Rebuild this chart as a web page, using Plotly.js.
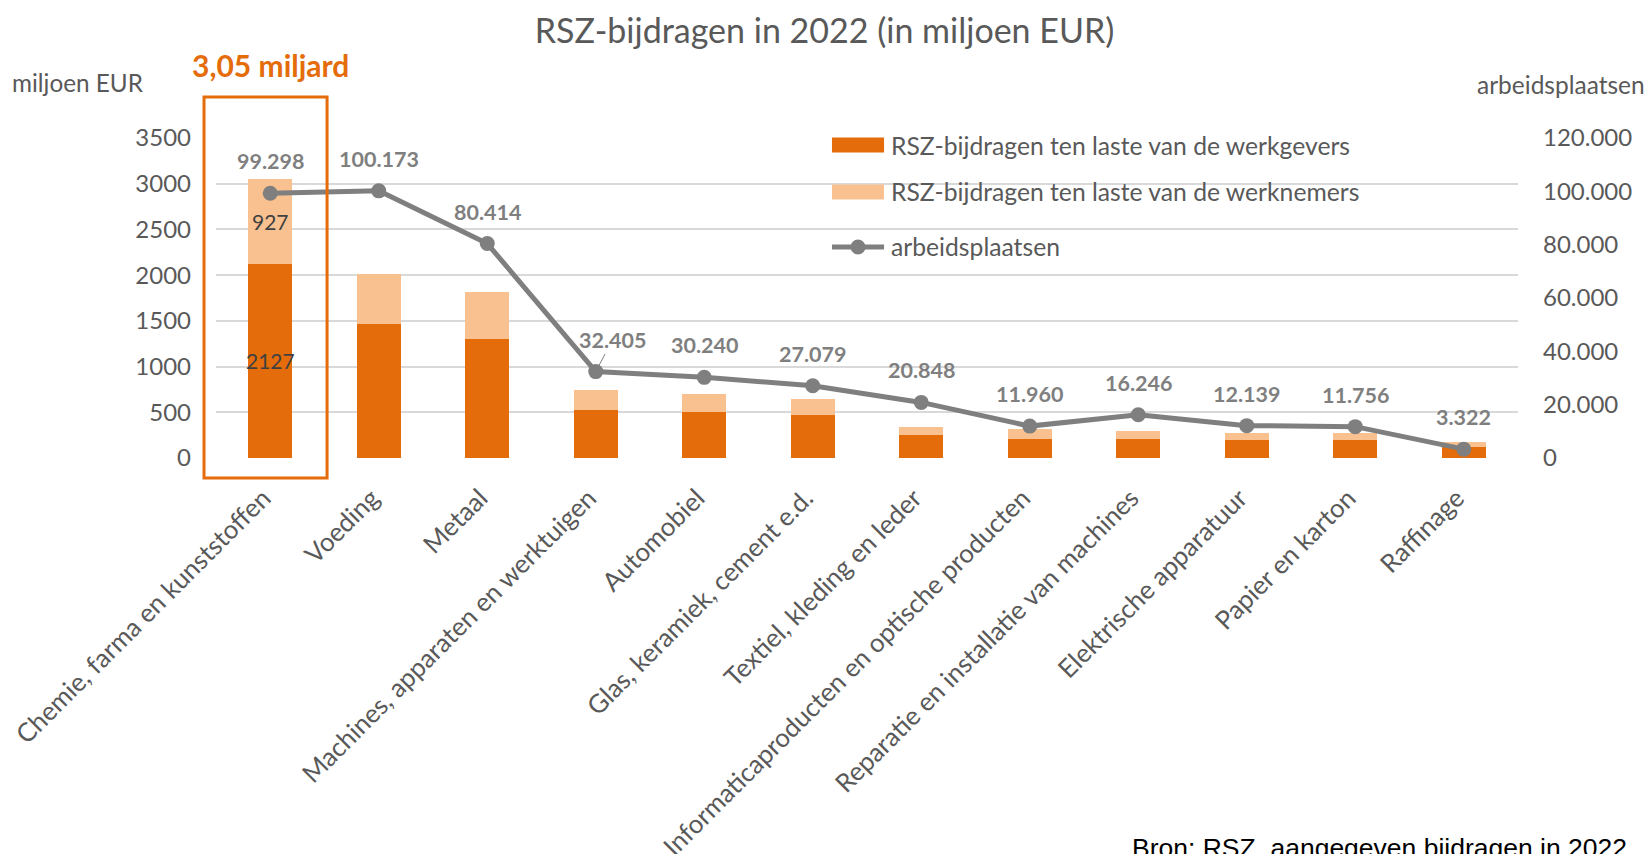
<!DOCTYPE html>
<html>
<head>
<meta charset="utf-8">
<script src="https://cdn.plot.ly/plotly-3.0.1.min.js"></script>
<style>html,body{margin:0;padding:0;background:#fff;overflow:hidden}#chart{width:1649px;height:854px}</style>
</head>
<body>
<div id="chart"></div>
<script>
const categories = ["Chemie, farma en kunststoffen","Voeding","Metaal","Machines, apparaten en werktuigen","Automobiel","Glas, keramiek, cement e.d.","Textiel, kleding en leder","Informaticaproducten en optische producten","Reparatie en installatie van machines","Elektrische apparatuur","Papier en karton","Raffinage"];
const werkgevers = [2127, 1466, 1302, 527, 505, 469, 247, 211, 207, 192, 192, 123];
const werknemers = [927, 546, 517, 219, 197, 178, 95, 109, 88, 81, 81, 52];
const arbeidsplaatsen = [99298, 100173, 80414, 32405, 30240, 27079, 20848, 11960, 16246, 12139, 11756, 3322];
const seriesNames = ["RSZ-bijdragen ten laste van de werkgevers","RSZ-bijdragen ten laste van de werknemers","arbeidsplaatsen"];
const highlightLabel = "3,05 miljard";

const DARK = "#E46C0A", LIGHT = "#F9C190", GREY = "#7F7F7F", TXT = "#595959";
const FONT = "Lato, 'Open Sans', sans-serif";

function fmt(v){ return String(v).replace(/\B(?=(\d{3})+(?!\d))/g, "."); }

const traces = [
  {type:"bar", name:seriesNames[0], x:categories, y:werkgevers, marker:{color:DARK}, hoverinfo:"skip", showlegend:false},
  {type:"bar", name:seriesNames[1], x:categories, y:werknemers, marker:{color:LIGHT}, hoverinfo:"skip", showlegend:false},
  {type:"scatter", mode:"lines+markers", name:seriesNames[2], x:categories, y:arbeidsplaatsen, yaxis:"y2",
   line:{color:GREY, width:5}, marker:{color:GREY, size:15}, cliponaxis:false, hoverinfo:"skip", showlegend:false}
];

const annotations = [];
arbeidsplaatsen.forEach((v,i)=>{
  const a = {x:categories[i], y:v, xref:"x", yref:"y2", text:fmt(v), showarrow:false, yshift:32,
    font:{family:FONT, size:21.5, color:GREY, weight:700}};
  if (i === 3) { Object.assign(a, {showarrow:true, ax:17, ay:-32, arrowhead:0, arrowwidth:1, arrowcolor:GREY, yshift:0, standoff:4}); }
  annotations.push(a);
});
// in-bar labels for first category
annotations.push({x:categories[0], y:werkgevers[0]/2, xref:"x", yref:"y", text:String(werkgevers[0]), showarrow:false,
  font:{family:FONT, size:21, color:"#404040"}});
annotations.push({x:categories[0], y:werkgevers[0]+werknemers[0]/2, xref:"x", yref:"y", text:String(werknemers[0]), showarrow:false,
  font:{family:FONT, size:21, color:"#404040"}});
// axis titles
annotations.push({xref:"paper", yref:"paper", x:-0.1582, y:1.172, xanchor:"left", yanchor:"middle", text:"miljoen EUR", showarrow:false,
  font:{family:FONT, size:24.3, color:TXT}});
annotations.push({xref:"paper", yref:"paper", x:1.0991, y:1.166, xanchor:"right", yanchor:"middle", text:"arbeidsplaatsen", showarrow:false,
  font:{family:FONT, size:24.5, color:TXT}});
// highlight label
annotations.push({xref:"x", yref:"paper", x:categories[0], y:1.228, xanchor:"center", yanchor:"middle", text:highlightLabel, showarrow:false,
  font:{family:FONT, size:30, color:DARK, weight:700}});
// source
annotations.push({xref:"paper", yref:"paper", x:1.0853, y:-1.165, xanchor:"right", yanchor:"top", text:"Bron: RSZ, aangegeven bijdragen in 2022", showarrow:false,
  font:{family:"'Liberation Sans', Arial, sans-serif", size:26.5, color:"#000"}});
// custom legend texts
const legY = [0.978, 0.8313, 0.6594];
seriesNames.forEach((n,i)=>{
  annotations.push({xref:"paper", yref:"paper", x:0.5169, y:legY[i], xanchor:"left", yanchor:"middle", text:n, showarrow:false,
    font:{family:FONT, size:24.7, color:TXT}});
});

const shapes = [
  {type:"rect", xref:"paper", yref:"paper", x0:-0.0092, x1:0.0853, y0:-0.0625, y1:1.128, line:{color:DARK, width:3}, fillcolor:"rgba(0,0,0,0)"},
  {type:"rect", xref:"paper", yref:"paper", x0:0.4731, x1:0.5131, y0:legY[0]-0.0234, y1:legY[0]+0.0234, line:{width:0}, fillcolor:DARK},
  {type:"rect", xref:"paper", yref:"paper", x0:0.4731, x1:0.5131, y0:legY[1]-0.0234, y1:legY[1]+0.0234, line:{width:0}, fillcolor:LIGHT},
  {type:"line", xref:"paper", yref:"paper", x0:0.4731, x1:0.5131, y0:legY[2], y1:legY[2], line:{color:GREY, width:5}},
  {type:"circle", xref:"paper", yref:"paper", xsizemode:"pixel", ysizemode:"pixel", xanchor:0.4931, yanchor:legY[2], x0:-7.5, x1:7.5, y0:-7.5, y1:7.5, line:{width:0}, fillcolor:GREY}
];

const layout = {
  width:1649, height:854,
  margin:{l:216, r:131, t:138, b:396},
  paper_bgcolor:"#fff", plot_bgcolor:"#fff",
  separators:",.",
  barmode:"stack", bargap:0.595,
  showlegend:false,
  title:{text:"RSZ-bijdragen in 2022 (in miljoen EUR)", x:0.5, xref:"container", xanchor:"center", y:0.964, yref:"container", yanchor:"middle",
    font:{family:FONT, size:34, color:TXT}},
  xaxis:{type:"category", range:[-0.5, categories.length-0.5], autorange:false, automargin:false, tickangle:-45, showgrid:false, zeroline:false, showline:false, ticks:"",
    ticklabelstandoff:19, ticklabelshift:-7,
    tickfont:{family:FONT, size:25.8, color:TXT}},
  yaxis:{range:[0,3500], autorange:false, automargin:false, dtick:500, tickformat:"d", showgrid:true, gridcolor:"#D9D9D9", gridwidth:2, zeroline:false, showline:false,
    ticks:"", ticklabelstandoff:24, tickfont:{family:FONT, size:24, color:TXT}},
  yaxis2:{overlaying:"y", side:"right", range:[0,120000], autorange:false, automargin:false, dtick:20000, tickformat:",d", showgrid:false, zeroline:false, showline:false,
    ticks:"", ticklabelstandoff:24, tickfont:{family:FONT, size:24, color:TXT}},
  annotations:annotations,
  shapes:shapes
};

Plotly.newPlot("chart", traces, layout, {displayModeBar:false, staticPlot:true});
</script>
</body>
</html>
